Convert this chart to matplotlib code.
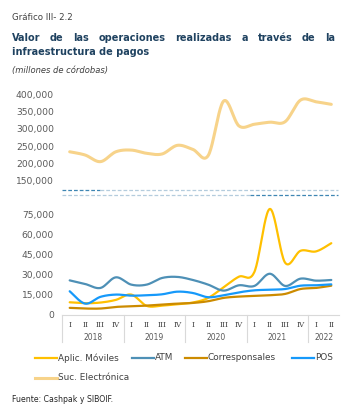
import numpy as np
import matplotlib
matplotlib.use("Agg")
import matplotlib.pyplot as plt
from matplotlib.lines import Line2D
from matplotlib.ticker import FuncFormatter

years = ['2018', '2019', '2020', '2021', '2022']
quarters = ['I', 'II', 'III', 'IV'] * 4 + ['I', 'II']

aplic = [9200, 8500, 9000, 11000, 15000, 6500, 6700, 7800, 9000,
         12500, 20500, 28500, 32000, 79500, 39000, 48000, 47500, 53700]
atm = [25700, 23000, 20000, 28000, 22500, 22500, 27500, 28300, 26000,
       22500, 18000, 22000, 21500, 30700, 21500, 27000, 25500, 26000]
corresponsales = [5000, 4500, 4500, 5700, 6200, 6700, 7500, 8200, 8700,
                  10000, 12500, 13500, 14000, 14500, 15500, 19200, 20000, 21700]
pos = [17500, 8200, 13300, 15000, 14200, 14500, 15200, 17200, 16200,
       13000, 14500, 16700, 18200, 18700, 19200, 21700, 22000, 22700]
suc = [233000, 223500, 204000, 233000, 238000, 228500, 226500, 252000, 240000,
       222000, 382000, 309000, 314000, 320000, 321500, 385000, 380000, 372500]

W, H = 360, 420
GREY = '#595959'


def px_axes(fig, left, top, right, bottom):
    return fig.add_axes([left / W, 1 - bottom / H, (right - left) / W, (bottom - top) / H])


def smooth(y, n=24):
    # bezier smoothing, close to what excel does with "smoothed line"
    y = np.asarray(y, dtype=float)
    x = np.arange(len(y), dtype=float)
    xs, ys = [], []
    for i in range(len(y) - 1):
        p0 = (x[max(i - 1, 0)], y[max(i - 1, 0)])
        p1 = (x[i], y[i])
        p2 = (x[i + 1], y[i + 1])
        p3 = (x[min(i + 2, len(y) - 1)], y[min(i + 2, len(y) - 1)])
        c1 = (p1[0] + (p2[0] - p0[0]) / 6, p1[1] + (p2[1] - p0[1]) / 6)
        c2 = (p2[0] - (p3[0] - p1[0]) / 6, p2[1] - (p3[1] - p1[1]) / 6)
        t = np.linspace(0, 1, n)
        for k in range(2):
            pts = [p1[k], c1[k], c2[k], p2[k]]
            v = ((1 - t) ** 3 * pts[0] + 3 * (1 - t) ** 2 * t * pts[1]
                 + 3 * (1 - t) * t ** 2 * pts[2] + t ** 3 * pts[3])
            (xs if k == 0 else ys).append(v)
    return np.concatenate(xs), np.concatenate(ys)


fig = plt.figure(figsize=(W / 100, H / 100), dpi=100)
fig.patch.set_facecolor('white')

fmt = FuncFormatter(lambda v, p: f'{int(v):,}')

# top panel: Suc. Electronica
ax_top = px_axes(fig, 62, 85, 339, 190)
ax_top.plot(*smooth(suc), color='#F7D38A', lw=2.2, solid_capstyle='round')
ax_top.set_ylim(120600, 429400)
ax_top.set_yticks([150000, 200000, 250000, 300000, 350000, 400000])

# bottom panel
ax_bot = px_axes(fig, 62, 195, 339, 314.5)
series = [
    ('Aplic. Móviles', aplic, '#FFC000'),
    ('ATM', atm, '#4E90B6'),
    ('Corresponsales', corresponsales, '#CC8B00'),
    ('POS', pos, '#1699FA'),
]
for name, vals, col in series:
    ax_bot.plot(*smooth(vals), color=col, lw=1.6, solid_capstyle='round')
ax_bot.set_ylim(0, 90000)
ax_bot.set_yticks([0, 15000, 30000, 45000, 60000, 75000])

for ax in (ax_top, ax_bot):
    ax.set_xlim(-0.5, len(quarters) - 0.5)
    ax.yaxis.set_major_formatter(fmt)
    ax.tick_params(axis='y', length=0, pad=5.8, labelsize=6.6, labelcolor=GREY)
    ax.set_xticks([])
    for s in ax.spines.values():
        s.set_visible(False)
    ax.patch.set_alpha(0)

ax_bot.spines['bottom'].set_visible(True)
ax_bot.spines['bottom'].set_color('#D9D9D9')
ax_bot.spines['bottom'].set_linewidth(0.8)

# quarter and year labels
trans = ax_bot.get_xaxis_transform()
for i, q in enumerate(quarters):
    ax_bot.text(i, 1 - (325 - 195) / 119.5, q, transform=trans, ha='center', va='center',
                fontsize=5.2, family='DejaVu Serif', color='#404040')
starts = [0, 4, 8, 12, 16, 18]
for j, yr in enumerate(years):
    mid = (starts[j] + starts[j + 1] - 1) / 2
    ax_bot.text(mid, 1 - (338 - 195) / 119.5, yr, transform=trans, ha='center', va='center',
                fontsize=5.5, color=GREY)
for s in starts[:-1]:
    ax_bot.add_line(Line2D([s - 0.5, s - 0.5], [0, -27 / 119.5], transform=trans,
                           color='#D9D9D9', lw=0.8, clip_on=False))

# axis break marks
for y, split, dark_first in ((190.5, 100, True), (195, 250, False)):
    yy = 1 - y / H
    segs = [(62, split), (split, 338)]
    for k, (a, b) in enumerate(segs):
        dark = (k == 0) == dark_first
        fig.add_artist(Line2D([a / W, b / W], [yy, yy], color='#3E86B3' if dark else '#B4CCDD',
                              lw=0.9, ls=(0, (3, 1.6))))

# titles
TITLE = '#1F4260'
fig.text(12 / W, 1 - 18 / H, 'Gráfico III- 2.2', fontsize=6.2, color='#404040', va='center')

words = 'Valor de las operaciones realizadas a través de la'.split()
fig.canvas.draw()
r = fig.canvas.get_renderer()
arts = [fig.text(0, 1 - 38 / H, w, fontsize=7, fontweight='bold', color=TITLE, va='center')
        for w in words]
widths = [a.get_window_extent(r).width for a in arts]
gap = (335 - 12 - sum(widths)) / (len(words) - 1)
x = 12
for a, w in zip(arts, widths):
    a.set_x(x / W)
    x += w + gap
fig.text(12 / W, 1 - 52 / H, 'infraestructura de pagos', fontsize=7, fontweight='bold',
         color=TITLE, va='center')
fig.text(12 / W, 1 - 71 / H, '(millones de córdobas)', fontsize=6, style='italic',
         color='#404040', va='center')

# legend built by hand to keep excel's row order
leg = series + [('Suc. Electrónica', suc, '#F7D38A')]
pos_leg = [(35, 358), (132, 358), (185, 358), (292, 358), (35, 378)]
for (name, _, col), (lx, ly) in zip(leg, pos_leg):
    yy = 1 - ly / H
    fig.add_artist(Line2D([lx / W, (lx + 22) / W], [yy, yy], color=col,
                          lw=2.2 if name.startswith('Suc') else 1.6))
    fig.text((lx + 23) / W, yy, name, fontsize=6.4, color='#404040', va='center')

fig.text(12 / W, 1 - 400 / H, 'Fuente: Cashpak y SIBOIF.', fontsize=5.6, color='#262626', va='center')

fig.savefig('out.png', dpi=100)
